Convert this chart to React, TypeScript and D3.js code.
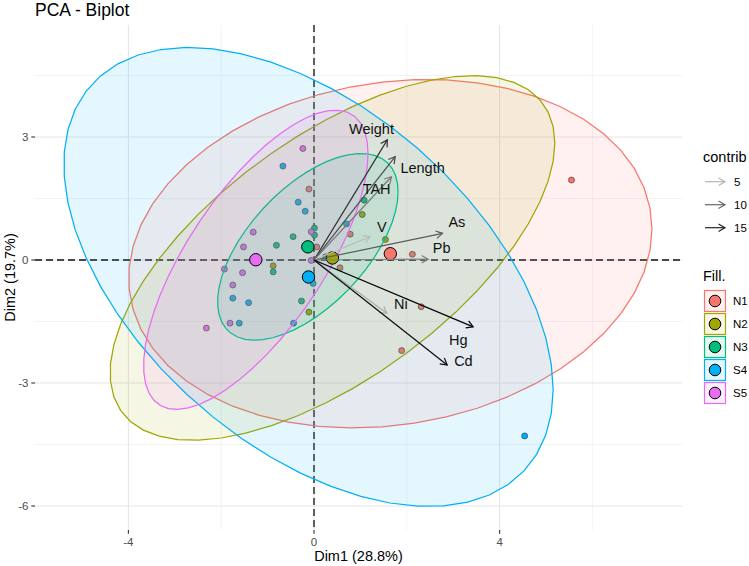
import React, { useEffect, useRef } from 'react';
import * as d3 from 'd3';

// groups and their ggplot hue colours
const groups = ['N1', 'N2', 'N3', 'S4', 'S5'];
const groupColors = ['#F8766D', '#A3A500', '#00BF7D', '#00B0F6', '#E76BF3'];

// individuals (Dim1, Dim2, group)
const indDim1 = [
  -0.11, 0.06, 0.78, 2.12, 0.56, 2.31, 1.89, 5.55,
  1.04, -0.88, -0.11, 1.54,
  1.08, 0.01, 0.01, -0.45, -0.81, -0.88, -0.27, 0.25,
  -0.67, -0.34, -0.19, 0.70, -0.02, -1.75, -1.41, -1.61, -0.44, 4.54,
  -0.24, -1.31, -1.52, -0.06, -0.06, -1.93, -1.54, -1.75, -1.81, -2.32,
];
const indDim2 = [
  1.73, 0.32, 0.63, 0.14, -0.19, -1.14, -2.21, 1.95,
  1.11, -0.14, -1.27, 0.50,
  1.46, 0.78, 0.61, 0.57, 0.36, -0.29, -1.0, 0.08,
  2.29, 1.41, 1.19, 0.88, -0.57, -0.93, -1.04, -1.54, -1.54, -4.29,
  2.72, 0.68, 0.32, 0.69, -0.01, -0.22, -0.31, -0.61, -1.54, -1.66,
];
const indGroup = [
  'N1', 'N1', 'N1', 'N1', 'N1', 'N1', 'N1', 'N1',
  'N2', 'N2', 'N2', 'N2',
  'N3', 'N3', 'N3', 'N3', 'N3', 'N3', 'N3', 'N3',
  'S4', 'S4', 'S4', 'S4', 'S4', 'S4', 'S4', 'S4', 'S4', 'S4',
  'S5', 'S5', 'S5', 'S5', 'S5', 'S5', 'S5', 'S5', 'S5', 'S5',
];

// variables
const varNames = ['Weight', 'Length', 'TAH', 'V', 'As', 'Pb', 'Ni', 'Hg', 'Cd'];
const varDim1 = [1.58, 1.75, 1.67, 1.21, 2.77, 2.46, 1.57, 3.43, 2.87];
const varDim2 = [2.93, 2.52, 2.03, 0.57, 0.65, 0.02, -1.30, -1.63, -2.56];
const varContrib = [14, 12, 9, 4.5, 11, 8.5, 5.5, 17.5, 17];
const labelDim1 = [1.24, 2.34, 1.35, 1.46, 3.08, 2.75, 1.87, 3.11, 3.22];
const labelDim2 = [3.19, 2.24, 1.72, 0.81, 0.93, 0.30, -1.07, -1.95, -2.46];

const xTicks = [-4, 0, 4];
const xMinor = [-2, 2, 6];
const yTicks = [-6, -3, 0, 3];
const yMinor = [-4.5, -1.5, 1.5, 4.5];
const contribBreaks = [5, 10, 15];

const FONT = '"Liberation Sans", Arial, Helvetica, sans-serif';

// stat_ellipse(type = "norm", level = 0.95)
function normEllipse(xs: number[], ys: number[], level = 0.95, segments = 51) {
  const n = xs.length;
  const mx = d3.mean(xs) as number;
  const my = d3.mean(ys) as number;
  let sxx = 0, syy = 0, sxy = 0;
  for (let i = 0; i < n; i++) {
    sxx += (xs[i] - mx) ** 2;
    syy += (ys[i] - my) ** 2;
    sxy += (xs[i] - mx) * (ys[i] - my);
  }
  sxx /= n - 1; syy /= n - 1; sxy /= n - 1;
  const dfd = n - 1;
  const chi = (dfd / 2) * (Math.pow(1 - level, -2 / dfd) - 1);
  const radius = Math.sqrt(2 * chi);
  const a = Math.sqrt(sxx);
  const b = sxy / a;
  const c = Math.sqrt(syy - b * b);
  return d3.range(segments + 1).map(i => {
    const t = (i * 2 * Math.PI) / segments;
    return [mx + radius * a * Math.cos(t), my + radius * (b * Math.cos(t) + c * Math.sin(t))];
  });
}

function arrowHead(x1: number, y1: number, x2: number, y2: number, len = 7.5) {
  const ang = Math.atan2(y2 - y1, x2 - x1);
  const a1 = ang + Math.PI - Math.PI / 6;
  const a2 = ang + Math.PI + Math.PI / 6;
  return `M${x2 + len * Math.cos(a1)},${y2 + len * Math.sin(a1)}L${x2},${y2}L${x2 + len * Math.cos(a2)},${y2 + len * Math.sin(a2)}`;
}

const Biplot = () => {
  const svgRef = useRef<SVGSVGElement>(null);

  useEffect(() => {
    const svg = d3.select(svgRef.current);
    svg.selectAll('*').remove();

    const width = 749;
    const height = 566;
    const panel = { left: 35, right: 682, top: 25, bottom: 530 };

    const x = d3.scaleLinear().domain([-6.013, 7.931]).range([panel.left, panel.right]);
    const y = d3.scaleLinear().domain([-6.585, 5.732]).range([panel.bottom, panel.top]);
    const color = d3.scaleOrdinal<string, string>().domain(groups).range(groupColors);
    const contribColor = d3.scaleLinear<string>()
      .domain(d3.extent(varContrib) as [number, number])
      .range(['#bdbdbd', '#000000'])
      .interpolate(d3.interpolateLab);

    svg.append('rect').attr('width', width).attr('height', height).attr('fill', '#fff');

    // grid
    const grid = svg.append('g');
    xMinor.forEach(v => grid.append('line').attr('x1', x(v)).attr('x2', x(v)).attr('y1', panel.top).attr('y2', panel.bottom)
      .attr('stroke', '#ebebeb').attr('stroke-width', 0.6));
    yMinor.forEach(v => grid.append('line').attr('y1', y(v)).attr('y2', y(v)).attr('x1', panel.left).attr('x2', panel.right)
      .attr('stroke', '#ebebeb').attr('stroke-width', 0.6));
    xTicks.forEach(v => grid.append('line').attr('x1', x(v)).attr('x2', x(v)).attr('y1', panel.top).attr('y2', panel.bottom)
      .attr('stroke', '#e6e6e6').attr('stroke-width', 1.1));
    yTicks.forEach(v => grid.append('line').attr('y1', y(v)).attr('y2', y(v)).attr('x1', panel.left).attr('x2', panel.right)
      .attr('stroke', '#e6e6e6').attr('stroke-width', 1.1));

    // axis ticks and labels
    const axes = svg.append('g').style('font-family', FONT);
    xTicks.forEach(v => {
      axes.append('line').attr('x1', x(v)).attr('x2', x(v)).attr('y1', panel.bottom).attr('y2', panel.bottom + 3.7)
        .attr('stroke', '#333').attr('stroke-width', 1.1);
      axes.append('text').attr('x', x(v)).attr('y', panel.bottom + 16).attr('text-anchor', 'middle')
        .attr('font-size', 11.5).attr('fill', '#4d4d4d').text(v);
    });
    yTicks.forEach(v => {
      axes.append('line').attr('x1', panel.left - 3.7).attr('x2', panel.left).attr('y1', y(v)).attr('y2', y(v))
        .attr('stroke', '#333').attr('stroke-width', 1.1);
      axes.append('text').attr('x', panel.left - 6.5).attr('y', y(v) + 4).attr('text-anchor', 'end')
        .attr('font-size', 11.5).attr('fill', '#4d4d4d').text(v);
    });
    axes.append('text').attr('x', (panel.left + panel.right) / 2).attr('y', 561).attr('text-anchor', 'middle')
      .attr('font-size', 14.5).attr('fill', '#000').text('Dim1 (28.8%)');
    axes.append('text').attr('transform', `translate(15, ${(panel.top + panel.bottom) / 2}) rotate(-90)`)
      .attr('text-anchor', 'middle').attr('font-size', 14.5).attr('fill', '#000').text('Dim2 (19.7%)');
    axes.append('text').attr('x', panel.left).attr('y', 16).attr('font-size', 17.5).attr('fill', '#000').text('PCA - Biplot');

    // dashed axes through origin
    svg.append('line').attr('x1', panel.left).attr('x2', panel.right).attr('y1', y(0)).attr('y2', y(0))
      .attr('stroke', '#111').attr('stroke-width', 1.3).attr('stroke-dasharray', '7,4');
    svg.append('line').attr('x1', x(0)).attr('x2', x(0)).attr('y1', panel.top).attr('y2', panel.bottom)
      .attr('stroke', '#111').attr('stroke-width', 1.3).attr('stroke-dasharray', '7,4');

    // individuals
    const ind = indDim1.map((d, i) => ({ d1: d, d2: indDim2[i], g: indGroup[i] }));
    svg.append('g').selectAll('circle').data(ind).enter().append('circle')
      .attr('cx', d => x(d.d1)).attr('cy', d => y(d.d2)).attr('r', 3)
      .attr('fill', d => color(d.g)).attr('stroke', '#222').attr('stroke-width', 0.6);

    // confidence ellipses
    const line = d3.line<number[]>().x(p => x(p[0])).y(p => y(p[1]));
    const ellG = svg.append('g');
    groups.forEach(g => {
      const sub = ind.filter(d => d.g === g);
      const pts = normEllipse(sub.map(d => d.d1), sub.map(d => d.d2));
      ellG.append('path').attr('d', line(pts) + 'Z')
        .attr('fill', color(g)).attr('fill-opacity', 0.1)
        .attr('stroke', color(g)).attr('stroke-width', 1.25);
    });

    // group means
    svg.append('g').selectAll('circle').data(groups).enter().append('circle')
      .attr('cx', g => x(d3.mean(ind.filter(d => d.g === g), d => d.d1) as number))
      .attr('cy', g => y(d3.mean(ind.filter(d => d.g === g), d => d.d2) as number))
      .attr('r', 6.2).attr('fill', g => color(g)).attr('stroke', '#000').attr('stroke-width', 1);

    // variable arrows
    const arrG = svg.append('g');
    varNames.forEach((v, i) => {
      const x1 = x(0), y1 = y(0), x2 = x(varDim1[i]), y2 = y(varDim2[i]);
      const c = contribColor(varContrib[i]);
      arrG.append('line').attr('x1', x1).attr('y1', y1).attr('x2', x2).attr('y2', y2)
        .attr('stroke', c).attr('stroke-width', 1.2);
      arrG.append('path').attr('d', arrowHead(x1, y1, x2, y2)).attr('fill', 'none')
        .attr('stroke', c).attr('stroke-width', 1.2);
    });
    varNames.forEach((v, i) => {
      arrG.append('text').attr('x', x(labelDim1[i])).attr('y', y(labelDim2[i]) + 5)
        .attr('text-anchor', 'middle').attr('font-size', 14.5).attr('fill', '#111')
        .style('font-family', FONT).text(v);
    });

    // legends
    const leg = svg.append('g').style('font-family', FONT);
    leg.append('text').attr('x', 703).attr('y', 162).attr('font-size', 14.5).text('contrib');
    contribBreaks.forEach((b, i) => {
      const cy = 181.7 + i * 23;
      const c = contribColor(b);
      leg.append('line').attr('x1', 705).attr('x2', 725).attr('y1', cy).attr('y2', cy)
        .attr('stroke', c).attr('stroke-width', 1.2);
      leg.append('path').attr('d', arrowHead(705, cy, 725, cy)).attr('fill', 'none')
        .attr('stroke', c).attr('stroke-width', 1.2);
      leg.append('text').attr('x', 734).attr('y', cy + 4).attr('font-size', 11.5).text(b);
    });
    leg.append('text').attr('x', 703).attr('y', 281).attr('font-size', 14.5).text('Fill.');
    groups.forEach((g, i) => {
      const cy = 301 + i * 23;
      leg.append('rect').attr('x', 704.5).attr('y', cy - 10.5).attr('width', 21).attr('height', 21)
        .attr('fill', color(g)).attr('fill-opacity', 0.1).attr('stroke', color(g)).attr('stroke-width', 1.2);
      leg.append('circle').attr('cx', 715).attr('cy', cy).attr('r', 5.8)
        .attr('fill', color(g)).attr('stroke', '#000').attr('stroke-width', 1);
      leg.append('text').attr('x', 733).attr('y', cy + 4).attr('font-size', 11.5).text(g);
    });
  }, []);

  return <svg ref={svgRef} width={749} height={566} style={{ display: 'block' }}></svg>;
};

export default function App() {
  return (
    <div style={{ position: 'absolute', left: 0, top: 0 }}>
      <Biplot />
    </div>
  );
}
